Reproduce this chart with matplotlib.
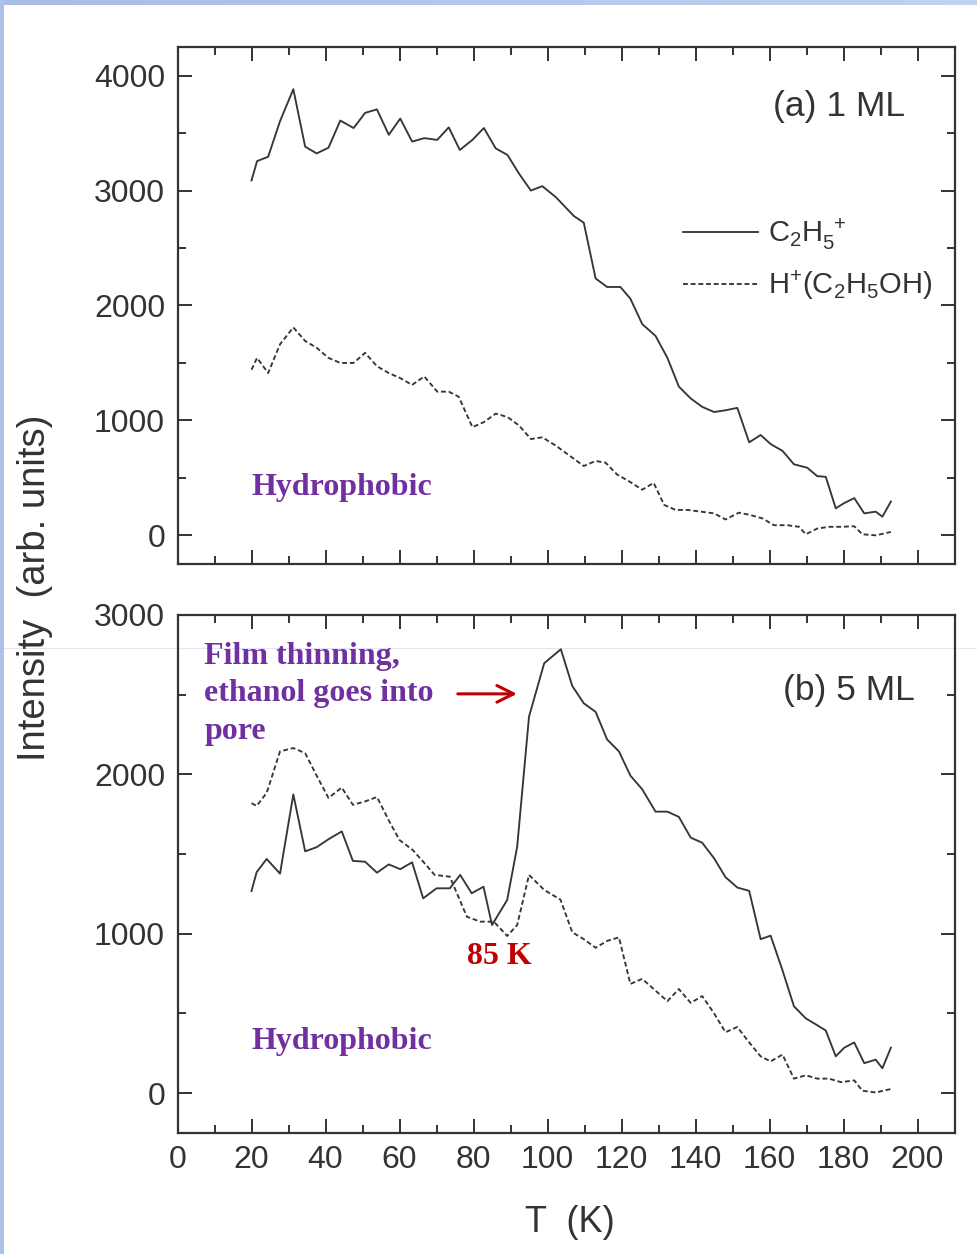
import matplotlib
matplotlib.use('Agg')
import matplotlib.pyplot as plt
from matplotlib.ticker import MultipleLocator
from matplotlib.lines import Line2D
import numpy as np

plt.rcParams['font.family'] = ['Liberation Sans', 'DejaVu Sans']
plt.rcParams['mathtext.default'] = 'regular'

# (a) 1 ML : C2H5+ signal
temp_1ml_c2h5 = [20.0, 21.5, 24.5, 27.7, 31.3, 34.5, 37.6, 40.8, 44.0, 47.6,
                 50.7, 53.9, 57.1, 60.2, 63.4, 66.7, 70.2, 73.3, 76.3, 79.7,
                 82.8, 86.0, 89.2, 92.3, 95.5, 98.6, 102.3,
                 107.1, 109.8, 113.0, 116.1, 119.7, 122.4, 125.6, 129.2, 132.4, 135.5,
                 138.7, 141.8, 145.0, 148.1, 151.3, 154.5, 157.6, 160.3, 163.5, 166.6,
                 170.2, 172.9, 175.2, 177.9, 180.1, 182.9, 185.6, 188.7, 190.5, 192.8]
c2h5_1ml = [3088, 3256, 3294, 3603, 3882, 3382, 3323, 3373, 3609, 3544,
            3676, 3706, 3485, 3626, 3426, 3456, 3441, 3550, 3353, 3441,
            3544, 3367, 3309, 3147, 3000, 3038, 2941,
            2779, 2720, 2235, 2161, 2161, 2059, 1838, 1735, 1544, 1294,
            1191, 1118, 1073, 1088, 1109, 809, 873, 794, 735, 618,
            588, 515, 509, 235, 279, 324, 191, 206, 162, 294]

# (a) 1 ML : H+(C2H5OH) signal
temp_1ml_h = [20.0, 21.5, 24.5, 27.7, 31.3, 34.5, 37.6, 40.8, 44.0, 47.6,
              50.7, 53.9, 57.1, 60.2, 63.4, 66.7, 70.2, 73.3, 76.0, 79.7,
              82.8, 86.0, 89.2, 92.3, 95.5, 98.6, 102.3,
              106.7, 109.8, 113.0, 115.7, 118.8, 122.0, 125.6, 128.7, 131.5, 134.6,
              137.8, 141.4, 145.0, 148.1, 151.7, 154.9, 158.1, 161.2, 164.8, 168.0,
              169.8, 172.9, 176.1, 179.3, 182.9, 185.1, 188.7, 192.8]
h_1ml = [1441, 1544, 1412, 1662, 1809, 1691, 1632, 1544, 1500, 1500,
         1588, 1471, 1412, 1368, 1309, 1382, 1250, 1250, 1206, 941,
         985, 1059, 1029, 956, 838, 853, 779,
         676, 603, 647, 632, 529, 471, 397, 456, 265, 221,
         221, 206, 191, 138, 197, 176, 147, 88, 88, 74,
         9, 59, 74, 74, 79, 9, 0, 29]

# (b) 5 ML : C2H5+ signal
temp_5ml_c2h5 = [20.0, 21.4, 24.1, 27.7, 31.3, 34.5, 37.6, 40.8, 44.4, 47.4,
                 50.7, 53.9, 57.1, 60.2, 63.4,
                 66.4, 70.0, 73.6, 76.4, 79.5, 82.7, 85.0, 89.1, 91.8, 95.0,
                 99.1, 103.6,
                 106.7, 109.8, 113.0, 116.1, 119.3, 122.4, 125.6, 129.2, 132.4, 135.5,
                 138.7, 141.8, 145.0, 148.1, 151.3, 154.5, 157.6, 160.3, 163.5, 166.6,
                 169.8, 172.9, 175.2, 177.9, 180.2, 182.9, 185.6, 188.7, 190.5, 192.8]
c2h5_5ml = [1268, 1387, 1469, 1377, 1874, 1517, 1543, 1593, 1642, 1457,
            1452, 1383, 1435, 1405, 1448,
            1222, 1285, 1285, 1369, 1254, 1295, 1055, 1212, 1546, 2362,
            2697, 2785,
            2554, 2446, 2392, 2219, 2144, 1992, 1906, 1766, 1766, 1733,
            1603, 1571, 1474, 1355, 1290, 1269, 966, 988, 771, 545,
            469, 426, 393, 231, 285, 318, 188, 210, 156, 285]

# (b) 5 ML : H+(C2H5OH) signal
temp_5ml_h = [20.0, 21.4, 24.1, 27.7, 31.3, 34.5, 37.6, 40.8, 44.4, 47.4,
              50.7, 53.9, 57.1,
              60.0, 63.6, 66.4, 69.5, 73.6, 78.2, 81.8, 85.5, 89.1, 91.8,
              95.0, 99.1,
              103.5, 106.7, 109.8, 113.0, 116.1, 119.3, 122.4, 125.6, 128.7, 132.4,
              135.5, 138.7, 141.8, 145.0, 148.1, 151.3, 154.5, 157.6, 160.3, 163.5,
              166.6, 169.8, 172.9, 176.1, 179.3, 182.9, 185.1, 188.7, 192.8]
h_5ml = [1819, 1802, 1884, 2144, 2165, 2133, 1992, 1852, 1917, 1809,
         1830, 1858, 1711,
         1588, 1525, 1452, 1369, 1358, 1107, 1076, 1076, 986, 1055,
         1369, 1275,
         1214, 1009, 966, 912, 955, 977, 685, 717, 653, 577,
         653, 566, 609, 501, 382, 415, 318, 231, 199, 242,
         91, 112, 91, 91, 69, 80, 15, 4, 26]

min_temp = 85  # film thinning onset

LINE = '#363636'
PURPLE = '#7030A0'
DARKRED = '#C00000'
SERIF = ['Liberation Serif', 'DejaVu Serif']
DASH = (0, (2.6, 1.5))

fig = plt.figure(figsize=(9.78, 12.54), dpi=100)
ax1 = fig.add_axes([0.1815, 0.5502, 0.7945, 0.4124])
ax2 = fig.add_axes([0.1815, 0.0965, 0.7945, 0.4131])


def style(ax, ylim, ymajor, show_x):
    ax.set_facecolor('none')
    ax.set_xlim(0, 210)
    ax.set_ylim(*ylim)
    ax.xaxis.set_major_locator(MultipleLocator(20))
    ax.xaxis.set_minor_locator(MultipleLocator(10))
    ax.yaxis.set_major_locator(MultipleLocator(ymajor))
    ax.yaxis.set_minor_locator(MultipleLocator(ymajor / 2))
    ax.tick_params(which='both', direction='in', top=True, right=True,
                   color='#333333', width=1.4, labelsize=23, labelcolor='#333333', pad=9)
    ax.tick_params(which='major', length=10)
    ax.tick_params(which='minor', length=5.5)
    if not show_x:
        ax.tick_params(axis='x', labelbottom=False)
    for sp in ax.spines.values():
        sp.set_color('#333333')
        sp.set_linewidth(1.6)


lw = 1.35
ax1.plot(temp_1ml_c2h5, c2h5_1ml, color=LINE, lw=lw)
ax1.plot(temp_1ml_h, h_1ml, color=LINE, lw=lw, linestyle=DASH)
style(ax1, (-250, 4250), 1000, False)

handles = [Line2D([], [], color=LINE, lw=lw),
           Line2D([], [], color=LINE, lw=lw, linestyle=DASH)]
labels = [r'$\mathregular{C_2H_5^{\ +}}$', r'$\mathregular{H^{+}(C_2H_5OH)}$']
ax1.legend(handles, labels, loc='upper left', bbox_to_anchor=(0.651, 0.672),
           frameon=False, fontsize=21, handlelength=2.55, handletextpad=0.35,
           labelspacing=0.55, borderaxespad=0, borderpad=0, labelcolor='#333333')

ax1.text(0.936, 0.884, '(a) 1 ML', transform=ax1.transAxes, ha='right', va='center',
         fontsize=25.5, color='#333333')
ax1.text(20, 420, 'Hydrophobic', fontsize=23, fontweight='bold', family=SERIF,
         color=PURPLE, ha='left', va='center')

ax2.plot(temp_5ml_c2h5, c2h5_5ml, color=LINE, lw=lw)
ax2.plot(temp_5ml_h, h_5ml, color=LINE, lw=lw, linestyle=DASH)
style(ax2, (-250, 3000), 1000, True)

ax2.text(0.949, 0.855, '(b) 5 ML', transform=ax2.transAxes, ha='right', va='center',
         fontsize=25.5, color='#333333')
ax2.text(20, 325, 'Hydrophobic', fontsize=23, fontweight='bold', family=SERIF,
         color=PURPLE, ha='left', va='center')
ax2.text(7.2, 2505, 'Film thinning,\nethanol goes into\npore', fontsize=23,
         fontweight='bold', family=SERIF, color=PURPLE, ha='left', va='center',
         linespacing=1.4)
ax2.annotate('', xy=(92.5, 2505), xytext=(75.0, 2505),
             arrowprops=dict(arrowstyle='->', color=DARKRED, lw=2.2,
                             mutation_scale=30))
ax2.text(min_temp + 2, 860, f'{min_temp} K', fontsize=23, fontweight='bold', family=SERIF,
         color=DARKRED, ha='center', va='center')

fig.text(0.036, 0.531, 'Intensity  (arb. units)', rotation=90, ha='center', va='center',
         fontsize=27.5, color='#333333')
fig.text(0.583, 0.025, 'T  (K)', ha='center', va='center', fontsize=26, color='#333333')

# slide frame along the top and left edges, plus the faint guide line behind the panels
grad = np.linspace(0, 1, 256).reshape(1, -1)
bar = fig.add_axes([0, 1 - 5 / 1254, 1, 5 / 1254])
bar.imshow(grad, aspect='auto', cmap=matplotlib.colors.LinearSegmentedColormap.from_list(
    'frame', ['#a7bde8', '#c2d2ef']))
bar.axis('off')
side = fig.add_axes([0, 0, 4 / 978, 1])
side.set_facecolor('#aec2e8')
side.set_xticks([])
side.set_yticks([])
for sp in side.spines.values():
    sp.set_visible(False)
fig.add_artist(Line2D([0, 1], [1 - 648 / 1254] * 2, transform=fig.transFigure,
                      color='#e4e4f4', lw=0.8, zorder=-1))

fig.savefig('out.png', dpi=100, facecolor='white')
